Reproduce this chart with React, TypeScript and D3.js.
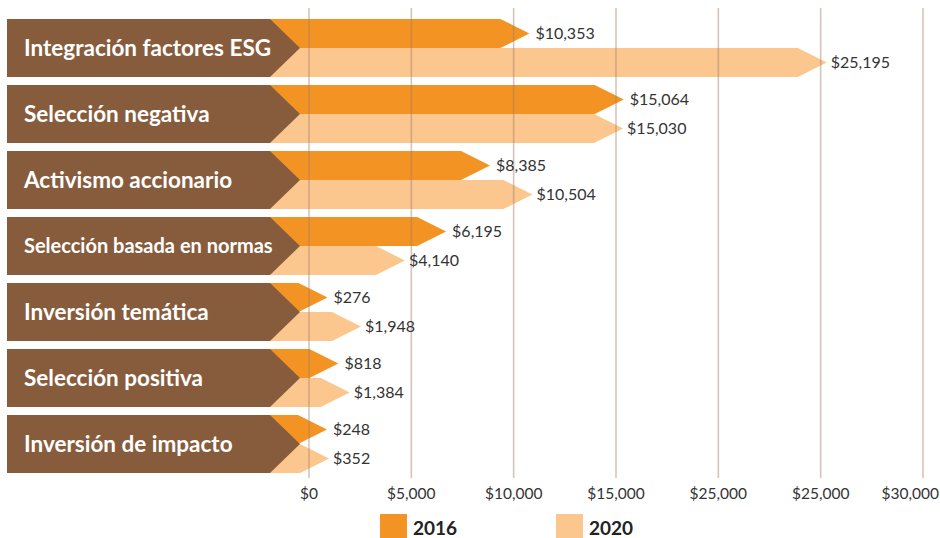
import React from 'react';
import * as d3 from 'd3';

const categories = [
  'Integración factores ESG',
  'Selección negativa',
  'Activismo accionario',
  'Selección basada en normas',
  'Inversión temática',
  'Selección positiva',
  'Inversión de impacto',
];
const values2016 = [10353, 15064, 8385, 6195, 276, 818, 248];
const values2020 = [25195, 15030, 10504, 4140, 1948, 1384, 352];
const tickValues = [0, 5000, 10000, 15000, 20000, 25000, 30000];
const tickLabels = ['$0', '$5,000', '$10,000', '$15,000', '$25,000', '$25,000', '$30,000'];
const seriesNames = ['2016', '2020'];

const W = 940;
const H = 538;
const BROWN = '#875C3D';
const ORANGE = '#F39324';
const LIGHT = '#FCC78E';
const GRID = '#A07E66';
const FONT = 'Lato, "Noto Sans", sans-serif';

const fmt = d3.format('$,');

export default function App() {
  const axisX = d3.scaleLinear().domain([0, 30000]).range([309, 923]);
  const barX = d3.scaleLinear().domain([0, 30000]).range([322, 923]);
  const y = d3.scaleBand<string>().domain(categories).range([19, 473]).paddingInner(0.121).paddingOuter(0);
  const bw = y.bandwidth();
  const half = bw / 2;
  const labelLeft = 7;
  const labelRight = 270;
  const chevron = 30;
  const barStart = labelRight - 2;
  const head = 29;

  const arrowPath = (top: number, h: number, tip: number) => {
    const p = d3.path();
    const bodyEnd = tip - head;
    p.moveTo(barStart, top);
    p.lineTo(bodyEnd, top);
    p.lineTo(tip, top + h / 2);
    p.lineTo(bodyEnd, top + h);
    p.lineTo(barStart, top + h);
    p.closePath();
    return p.toString();
  };

  const labelPath = (top: number) => {
    const p = d3.path();
    p.moveTo(labelLeft, top);
    p.lineTo(labelRight, top);
    p.lineTo(labelRight + chevron, top + half);
    p.lineTo(labelRight, top + bw);
    p.lineTo(labelLeft, top + bw);
    p.closePath();
    return p.toString();
  };

  return (
    <svg width={W} height={H} style={{ position: 'absolute', left: 0, top: 0 }} fontFamily={FONT}>
      <rect width={W} height={H} fill="#fff" />
      {categories.map((c, i) => {
        const top = y(c) as number;
        return (
          <g key={c}>
            <path d={arrowPath(top, half, barX(values2016[i]))} fill={ORANGE} />
            <path d={arrowPath(top + half, half, barX(values2020[i]))} fill={LIGHT} />
          </g>
        );
      })}
      {tickValues.map((t) => (
        <line key={t} x1={axisX(t)} x2={axisX(t)} y1={8} y2={478} stroke={GRID} strokeOpacity={0.45} strokeWidth={1.6} />
      ))}
      {categories.map((c, i) => {
        const top = y(c) as number;
        const small = c.length > 24;
        return (
          <g key={'l' + c}>
            <path d={labelPath(top)} fill={BROWN} />
            <text x={24} y={top + half} dy="0.35em" fill="#fff" fontWeight={700} fontSize={small ? 20 : 22.5}>
              {c}
            </text>
          </g>
        );
      })}
      {categories.map((c, i) => {
        const top = y(c) as number;
        return (
          <g key={'v' + c} fontSize={16} fill="#333">
            <text x={barX(values2016[i]) + 6} y={top + half / 2} dy="0.35em">{fmt(values2016[i])}</text>
            <text x={barX(values2020[i]) + 4} y={top + half * 1.5} dy="0.35em">{fmt(values2020[i])}</text>
          </g>
        );
      })}
      {tickValues.map((t, i) => {
        const last = i === tickValues.length - 1;
        return (
          <text key={'t' + t} x={last ? W - 1 : axisX(t)} y={499} textAnchor={last ? 'end' : 'middle'} fontSize={15.5} fill="#333">
            {tickLabels[i]}
          </text>
        );
      })}
      {seriesNames.map((s, i) => {
        const lx = 380 + i * 176;
        return (
          <g key={s}>
            <rect x={lx} y={514} width={27} height={27} fill={i === 0 ? ORANGE : LIGHT} />
            <text x={lx + 33} y={535} fontSize={19} fontWeight={700} fill="#222">{s}</text>
          </g>
        );
      })}
    </svg>
  );
}
